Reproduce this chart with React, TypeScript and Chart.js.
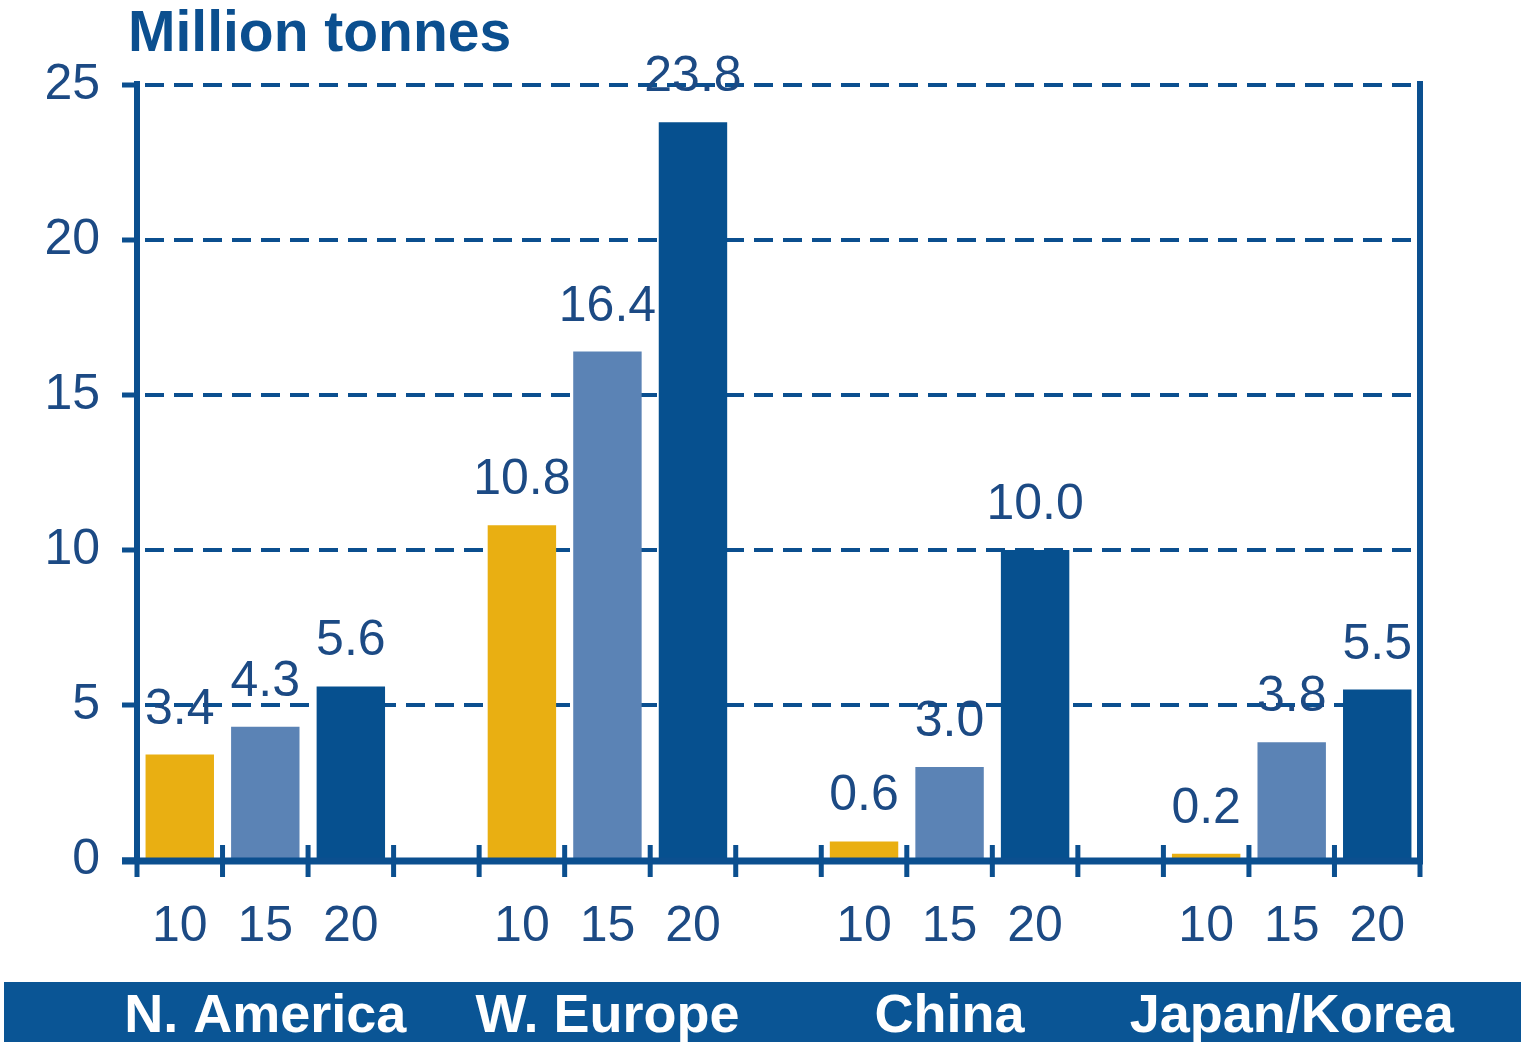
import React, { useEffect, useRef } from "react";
import { Chart, registerables } from "chart.js";

Chart.register(...registerables);

// ---- data ----
const regions = ["N. America", "W. Europe", "China", "Japan/Korea"];
const years = ["10", "15", "20"];
const values2010 = [3.4, 10.8, 0.6, 0.2];
const values2015 = [4.3, 16.4, 3.0, 3.8];
const values2020 = [5.6, 23.8, 10.0, 5.5];
const yMin = 0;
const yMax = 25;
const yStep = 5;
const unitTitle = "Million tonnes";

// ---- styles ----
const NAVY = "#0b4f8f";
const TEXT = "#1c4a84";
const BAND = "#0a5595";
const yearColors = ["#e9af12", "#5b83b5", "#06508f"];
const FONT = "'Liberation Sans', Arial, Helvetica, sans-serif";

export default function App() {
  const ref = useRef<HTMLCanvasElement | null>(null);

  useEffect(() => {
    if (!ref.current) return;
    const seriesByYear = [values2010, values2015, values2020];
    const labels: string[] = [];
    const data: (number | null)[] = [];
    const colors: string[] = [];
    const groupSlots: number[][] = [];
    regions.forEach((_, r) => {
      if (r > 0) {
        labels.push("");
        data.push(null);
        colors.push("rgba(0,0,0,0)");
      }
      const slots: number[] = [];
      years.forEach((y, k) => {
        slots.push(labels.length);
        labels.push(y);
        data.push(seriesByYear[k][r]);
        colors.push(yearColors[k]);
      });
      groupSlots.push(slots);
    });

    const decor = {
      id: "decor",
      afterDatasetsDraw(chart: any) {
        const { ctx, chartArea } = chart;
        const xs = chart.scales.x;
        const step = xs.getPixelForValue(1) - xs.getPixelForValue(0);
        ctx.save();
        // data labels
        const meta = chart.getDatasetMeta(0);
        ctx.fillStyle = TEXT;
        ctx.font = `50px ${FONT}`;
        ctx.textAlign = "center";
        ctx.textBaseline = "alphabetic";
        meta.data.forEach((bar: any, i: number) => {
          const v = data[i];
          if (v === null || v === undefined) return;
          ctx.fillText(v.toFixed(1), bar.x, bar.y - 31);
        });
        // axes
        ctx.strokeStyle = NAVY;
        ctx.lineCap = "butt";
        ctx.lineWidth = 7;
        ctx.beginPath();
        ctx.moveTo(chartArea.left - 15, chartArea.bottom + 1);
        ctx.lineTo(chartArea.right + 3, chartArea.bottom + 1);
        ctx.stroke();
        ctx.lineWidth = 6;
        ctx.beginPath();
        ctx.moveTo(chartArea.left, chartArea.top - 4);
        ctx.lineTo(chartArea.left, chartArea.bottom + 1);
        ctx.moveTo(chartArea.right, chartArea.top - 4);
        ctx.lineTo(chartArea.right, chartArea.bottom + 1);
        ctx.stroke();
        // x tick marks between categories
        ctx.lineWidth = 5;
        ctx.beginPath();
        for (let i = 0; i <= labels.length; i++) {
          const x = xs.getPixelForValue(0) - step / 2 + i * step;
          ctx.moveTo(x, chartArea.bottom - 15);
          ctx.lineTo(x, chartArea.bottom + 17);
        }
        ctx.stroke();
        ctx.restore();
      },
      afterDraw(chart: any) {
        const { ctx } = chart;
        const xs = chart.scales.x;
        ctx.save();
        // title
        ctx.fillStyle = NAVY;
        ctx.font = `bold 57px ${FONT}`;
        ctx.textAlign = "left";
        ctx.textBaseline = "alphabetic";
        ctx.fillText(unitTitle, 128, 51);
        // band
        ctx.fillStyle = BAND;
        ctx.fillRect(4, 982, chart.width - 4, 60);
        ctx.fillStyle = "#ffffff";
        ctx.font = `bold 54px ${FONT}`;
        ctx.textAlign = "center";
        groupSlots.forEach((slots, r) => {
          const cx =
            (xs.getPixelForValue(slots[0]) + xs.getPixelForValue(slots[slots.length - 1])) / 2;
          ctx.fillText(regions[r], cx, 1032);
        });
        ctx.restore();
      },
    };

    const chart = new Chart(ref.current, {
      type: "bar",
      data: {
        labels,
        datasets: [
          {
            data,
            backgroundColor: colors,
            borderWidth: 0,
            barPercentage: 0.8,
            categoryPercentage: 1,
          },
        ],
      },
      options: {
        responsive: false,
        animation: false,
        devicePixelRatio: 1,
        layout: { padding: { top: 85, right: 101, bottom: 0, left: 0 } },
        plugins: { legend: { display: false }, tooltip: { enabled: false }, title: { display: false } },
        scales: {
          x: {
            type: "category",
            offset: true,
            grid: { display: false },
            border: { display: false },
            ticks: {
              color: TEXT,
              font: { family: FONT, size: 50 },
              padding: 29,
              maxRotation: 0,
              autoSkip: false,
            },
            afterFit(scale: any) {
              scale.height = 185;
            },
          },
          y: {
            min: yMin,
            max: yMax,
            grid: {
              color: NAVY,
              lineWidth: 4,
              drawTicks: true,
              tickLength: 15,
              tickBorderDash: [],
              tickColor: NAVY,
              tickWidth: 5,
            },
            border: { display: false, dash: [19, 10], dashOffset: -8 },
            ticks: {
              stepSize: yStep,
              color: TEXT,
              font: { family: FONT, size: 50 },
              padding: 22,
            },
            afterFit(scale: any) {
              scale.width = 137;
            },
          },
        },
      },
      plugins: [decor],
    } as any);

    return () => chart.destroy();
  }, []);

  return (
    <div style={{ position: "absolute", left: 0, top: 0, width: 1521, height: 1045, background: "#ffffff" }}>
      <canvas ref={ref} width={1521} height={1045} style={{ display: "block", width: 1521, height: 1045 }} />
    </div>
  );
}
